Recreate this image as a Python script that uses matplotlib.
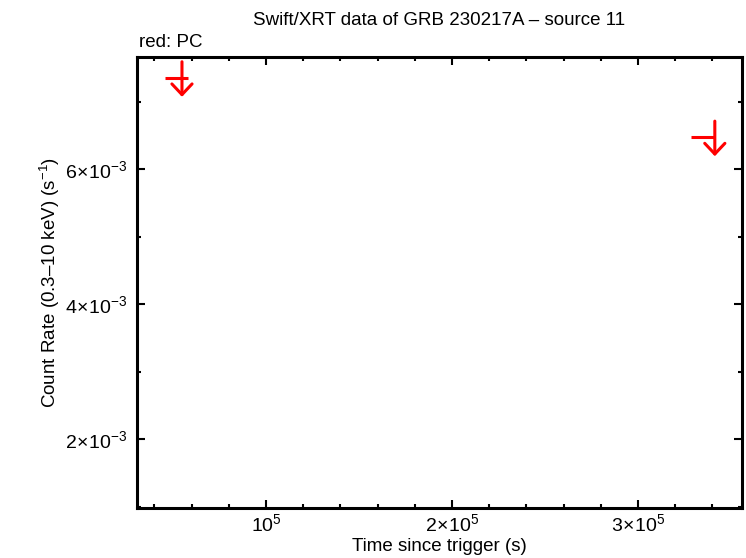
import matplotlib
matplotlib.use("Agg")
import matplotlib.pyplot as plt
from matplotlib.ticker import MultipleLocator, FuncFormatter

plt.rcParams['font.family'] = ['Liberation Sans', 'DejaVu Sans']
plt.rcParams['mathtext.fontset'] = 'custom'
plt.rcParams['mathtext.rm'] = 'Liberation Sans'
plt.rcParams['mathtext.it'] = 'Liberation Sans:italic'
plt.rcParams['mathtext.bf'] = 'Liberation Sans:bold'

# upper limits (PC mode)
t_pc = [54800, 341300]
t_pc_lo = [9200, 12900]      # negative time error
t_pc_hi = [3200, 0]          # positive time error
rate_pc = [7.35e-3, 6.47e-3]

ARROW_UP = 0.24e-3
ARROW_DOWN = 0.28e-3
RED = '#ff0000'


def fmt_x(v, pos):
    if v <= 0:
        return ''
    m = int(round(v / 1e5))
    if m == 1:
        return r'$10^{5}$'
    return r'$%d\!\times\!10^{5}$' % m


def fmt_y(v, pos):
    m = int(round(v / 1e-3))
    return r'$%d\!\times\!10^{-3}$' % m


fig = plt.figure(figsize=(7.46, 5.58), dpi=100)
ax = fig.add_axes([0.1836, 0.0896, 0.811, 0.8082])

ax.errorbar(t_pc, rate_pc, xerr=[t_pc_lo, t_pc_hi], fmt='none',
            ecolor=RED, elinewidth=2.2, capsize=0)
for t, r in zip(t_pc, rate_pc):
    ax.annotate('', xy=(t, r - ARROW_DOWN), xytext=(t, r + ARROW_UP),
                arrowprops=dict(arrowstyle='->, head_length=0.35, head_width=0.33',
                                color=RED, lw=2.2,
                                mutation_scale=22, shrinkA=0, shrinkB=0))

ax.set_xlim(30600, 355900)
ax.set_ylim(0.978e-3, 7.66e-3)

ax.xaxis.set_major_locator(MultipleLocator(1e5))
ax.xaxis.set_minor_locator(MultipleLocator(2e4))
ax.yaxis.set_major_locator(MultipleLocator(2e-3))
ax.yaxis.set_minor_locator(MultipleLocator(1e-3))
ax.xaxis.set_major_formatter(FuncFormatter(fmt_x))
ax.yaxis.set_major_formatter(FuncFormatter(fmt_y))

ax.tick_params(which='both', direction='in', top=True, right=True,
               width=1.5, labelsize=14)
ax.tick_params(axis='x', pad=4)
ax.tick_params(axis='y', pad=7)
ax.tick_params(which='major', length=6)
ax.tick_params(which='minor', length=3)
for s in ax.spines.values():
    s.set_linewidth(2.2)

ax.set_xlabel('Time since trigger (s)', fontsize=13.5, labelpad=2)
ax.set_ylabel('Count Rate (0.3\u201310 keV) (s$^{-1}$)', fontsize=13.5, labelpad=2)
fig.text(0.588, 0.963, 'Swift/XRT data of GRB 230217A \u2013 source 11',
         ha='center', va='center', fontsize=13.5)
fig.text(0.186, 0.923, 'red: PC', ha='left', va='center', fontsize=13.5)

fig.savefig('out.png', dpi=100)
